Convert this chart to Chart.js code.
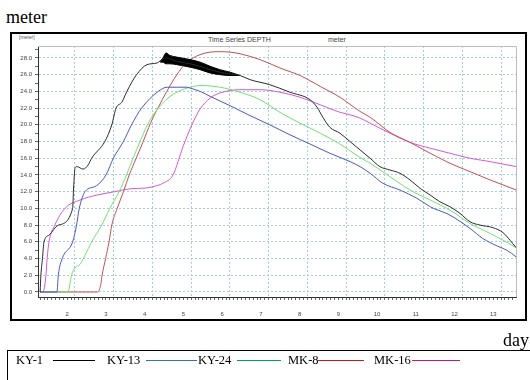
<!DOCTYPE html>
<html><head><meta charset="utf-8">
<script src="https://cdn.jsdelivr.net/npm/chart.js@4.4.1/dist/chart.umd.min.js"></script>
<style>
html,body{margin:0;padding:0;background:#fff;}
#page{position:relative;width:530px;height:380px;overflow:hidden;background:#fff;}
#frame{position:absolute;left:10px;top:32px;width:513px;height:285px;border:2px solid #000;box-sizing:content-box;}
#c{position:absolute;left:0;top:0;}
.serif{font-family:"Liberation Serif","Times New Roman",serif;color:#000;position:absolute;white-space:nowrap;}
.small{font-family:"Liberation Sans",Arial,sans-serif;color:#333;position:absolute;white-space:nowrap;}
#legendBox{position:absolute;left:7px;top:350px;width:530px;height:40px;border-top:1px solid #000;border-left:1px solid #000;}
.lgline{position:absolute;height:1px;}
</style>
</head><body>
<div id="page">
  <div class="serif" style="left:6px;top:8px;font-size:18px;line-height:18px;">meter</div>
  <div id="frame"></div>
  <div class="small" style="left:19px;top:34px;font-size:5px;line-height:6px;color:#555;">[meter]</div>
  <div class="small" style="left:208px;top:36px;font-size:7px;line-height:8px;color:#444;">Time Series DEPTH</div>
  <div class="small" style="left:328px;top:36px;font-size:7px;line-height:8px;color:#444;">meter</div>
  <canvas id="c" width="530" height="380"></canvas>
  <div class="serif" style="left:503px;top:331px;font-size:18px;line-height:18px;">day</div>
  <div id="legendBox"></div>
</div>
<script>
// ---------- data ----------
const seriesNames = ['KY-1', 'KY-13', 'KY-24', 'MK-8', 'MK-16'];
const xTickDays = [2, 3, 4, 5, 6, 7, 8, 9, 10, 11, 12, 13];
const yTickDepths = [0, 2, 4, 6, 8, 10, 12, 14, 16, 18, 20, 22, 24, 26, 28];

const ky1Day   = [1.30,1.32,1.36,1.40,1.53,1.77,2.14,2.16,2.20,2.25,2.41,2.54,2.63,2.97,3.15,3.26,3.41,3.54,3.79,4.06,4.32,4.47,4.55,4.83,5.17,5.43,5.69,5.94,6.20,6.46,6.72,7.23,7.75,8.27,8.45,8.60,8.78,9.04,9.30,9.56,9.82,10.07,10.33,10.59,10.85,11.11,11.37,11.62,11.88,12.14,12.40,12.66,12.99,13.25,13.43,13.59];
const ky1Depth = [0,2,4,6,6.8,8,10,12,14.8,15.0,14.7,15.2,16,18,20,22,22.7,24,26,27.2,27.4,27.9,28.0,27.6,27.3,27.0,26.6,26.3,26.1,25.9,25.4,24.8,23.9,23.0,22.1,20.9,19.7,19.0,18.0,17.0,16.0,15.0,14.6,14.2,13.4,12.4,11.6,10.8,10.2,9.4,8.4,8.0,7.7,7.1,6.2,5.3];

// the oscillating (thick) part of KY-1
const ky1BandDay    = [4.40,4.47,4.55,4.65,4.83,5.17,5.43,5.69,5.94,6.20,6.46];
const ky1BandTop    = [27.6,28.0,28.6,28.3,28.1,27.8,27.5,27.0,26.6,26.3,25.9];
const ky1BandBottom = [27.5,27.5,27.3,27.3,27.2,26.9,26.6,26.2,26.0,25.9,25.9];

const ky13Day   = [1.30,1.735,1.77,1.87,2.14,2.24,2.31,2.46,2.75,3.00,3.19,3.45,3.66,3.92,4.35,4.58,4.83,5.09,5.17,5.43,5.69,6.20,6.72,7.23,7.75,8.27,8.78,9.30,9.56,9.82,10.15,10.59,11.03,11.37,11.88,12.40,12.73,13.10,13.35,13.59];
const ky13Depth = [0,0,2,4,6,8,10,12,12.7,14,16,18,20,22,24,24.5,24.5,24.5,24.4,24.0,23.4,22.3,21.1,20.0,18.8,17.7,16.6,15.6,15.0,14.2,13.0,12.2,11.2,10.2,9.2,7.6,6.4,5.5,5.0,4.2];

const ky24Day   = [1.30,2.02,2.11,2.20,2.33,2.46,2.63,2.89,3.10,3.34,3.53,3.70,3.88,4.07,4.35,4.60,4.87,5.17,5.43,5.94,6.46,6.98,7.49,8.01,8.53,9.04,9.30,9.56,9.82,10.33,10.85,11.37,11.88,12.40,12.92,13.25,13.59];
const ky24Depth = [0,0,2,2.9,3.3,4.4,6,8,10,12,14,16,18,20,22,23.2,24,24.5,24.7,24.5,23.9,23.0,21.5,20.2,19.0,17.7,16.9,16.1,15.4,13.8,12.2,11.0,9.8,8.2,7.0,6.2,5.3];

const mk8Day   = [1.30,2.79,2.87,2.90,2.99,3.08,3.15,3.29,3.45,3.60,3.78,3.96,4.15,4.34,4.57,4.83,5.05,5.25,5.43,5.69,5.94,6.20,6.46,6.98,7.49,8.01,8.53,9.04,9.56,9.82,10.33,10.85,11.37,11.88,12.40,12.92,13.59];
const mk8Depth = [0,0,1,2,4,6,8,10,12,14,16,18,20.2,22,24,26,27.3,28,28.4,28.7,28.75,28.7,28.5,27.8,26.8,25.9,24.6,23.3,21.6,20.9,19.1,17.9,16.6,15.4,14.4,13.4,12.2];

const mk16Day   = [1.30,1.37,1.45,1.48,1.53,1.68,1.94,2.33,2.77,3.23,3.62,4.06,4.21,4.47,4.73,4.99,5.22,5.43,5.69,5.94,6.46,6.98,7.49,8.01,8.53,9.04,9.30,9.56,9.82,10.33,10.85,11.37,11.88,12.40,12.92,13.59];
const mk16Depth = [0,0,2,4,6,8,10,11,11.6,12,12.35,12.45,12.6,13.0,14.0,17.4,20,21.9,23.2,23.8,24.2,24.2,23.9,23.3,22.4,21.5,21.2,20.8,20.2,19.0,17.9,17.2,16.6,16.0,15.6,15.0];

// ---------- styles ----------
const lineColors   = ['#2a2a2a', '#4a58c0', '#72e072', '#c25252', '#d25ad6'];
const legendColors = ['#000000', '#2e75b6', '#00a060', '#d01818', '#c0188a'];
const legendTextX  = [16, 107, 198, 288, 374];
const legendLineX  = [[53, 95], [146, 197], [237, 281], [318, 364], [412, 460]];

function pts(days, vals) { return days.map((d, i) => ({x: d, y: vals[i]})); }

const seriesData = [pts(ky1Day, ky1Depth), pts(ky13Day, ky13Depth), pts(ky24Day, ky24Depth), pts(mk8Day, mk8Depth), pts(mk16Day, mk16Depth)];

const datasets = seriesNames.map((n, i) => ({
  label: n, data: seriesData[i], borderColor: lineColors[i], borderWidth: 1,
  pointRadius: 0, fill: false, cubicInterpolationMode: 'monotone'
}));
datasets.splice(1, 0,
  {label: 'KY-1 band top', data: pts(ky1BandDay, ky1BandTop), borderColor: '#000', backgroundColor: '#000', borderWidth: 1, pointRadius: 0, fill: '+1', cubicInterpolationMode: 'monotone'},
  {label: 'KY-1 band bottom', data: pts(ky1BandDay, ky1BandBottom), borderColor: '#000', borderWidth: 1, pointRadius: 0, fill: false, cubicInterpolationMode: 'monotone'}
);

const gridBlue = '#a6cce2';
const plotFrame = {
  id: 'plotFrame',
  afterDraw(chart) {
    const {ctx, chartArea: a} = chart;
    ctx.save();
    ctx.strokeStyle = '#bdbdbd'; ctx.lineWidth = 1;
    ctx.beginPath();
    ctx.moveTo(a.left, Math.round(a.top) + 0.5);
    ctx.lineTo(Math.round(a.right) + 0.5, Math.round(a.top) + 0.5);
    ctx.lineTo(Math.round(a.right) + 0.5, a.bottom);
    ctx.stroke();
    ctx.restore();
  }
};

const near = (v, arr) => arr.some(t => Math.abs(t - v) < 1e-6);

new Chart(document.getElementById('c'), {
  type: 'line',
  data: {datasets},
  options: {
    responsive: false, animation: false, devicePixelRatio: 1,
    layout: {padding: {left: 12, right: 14, top: 46, bottom: 58}},
    plugins: {legend: {display: false}, tooltip: {enabled: false}, title: {display: false}},
    scales: {
      x: {
        type: 'linear', min: 1.245, max: 13.586,
        afterBuildTicks: s => {
          const t = [];
          for (let k = 13; k <= 135; k++) t.push({value: k / 10});
          s.ticks = t;
        },
        afterFit: s => { s.height = 25; s.paddingLeft = 0; s.paddingRight = 0; },
        ticks: {
          autoSkip: false, maxRotation: 0, padding: 11, color: '#444',
          font: {family: 'Liberation Sans', size: 6},
          callback: v => near(v, xTickDays) ? String(Math.round(v)) : ''
        },
        grid: {
          color: c => (c.tick && near(c.tick.value - 0.2, xTickDays.concat([1]))) ? gridBlue : 'rgba(0,0,0,0)',
          tickColor: '#666', tickLength: 3, lineWidth: 1
        },
        border: {color: '#333', width: 1, dash: [2, 2]}
      },
      y: {
        min: -0.6, max: 29.43,
        afterBuildTicks: s => {
          const t = [];
          for (let k = 0; k <= 29; k++) t.push({value: k});
          s.ticks = t;
        },
        afterFit: s => { s.width = 26; s.paddingTop = 0; s.paddingBottom = 0; },
        ticks: {
          autoSkip: false, padding: 3, color: '#444',
          font: {family: 'Liberation Sans', size: 6},
          callback: v => near(v, yTickDepths) ? v.toFixed(1) : ''
        },
        grid: {
          color: c => (c.tick && near(c.tick.value, yTickDepths)) ? gridBlue : 'rgba(0,0,0,0)',
          tickColor: '#666', tickLength: 3, lineWidth: 1
        },
        border: {color: '#333', width: 1, dash: [2, 2]}
      }
    }
  },
  plugins: [plotFrame]
});

// ---------- legend (HTML, built from the series names) ----------
const page = document.getElementById('page');
seriesNames.forEach((n, i) => {
  const t = document.createElement('div');
  t.className = 'serif';
  t.style.cssText = `left:${legendTextX[i]}px;top:354px;font-size:12.5px;line-height:13px;`;
  t.textContent = n;
  page.appendChild(t);
  const l = document.createElement('div');
  l.className = 'lgline';
  l.style.cssText = `left:${legendLineX[i][0]}px;width:${legendLineX[i][1] - legendLineX[i][0]}px;top:360px;background:${legendColors[i]};`;
  page.appendChild(l);
});
</script>
</body></html>
